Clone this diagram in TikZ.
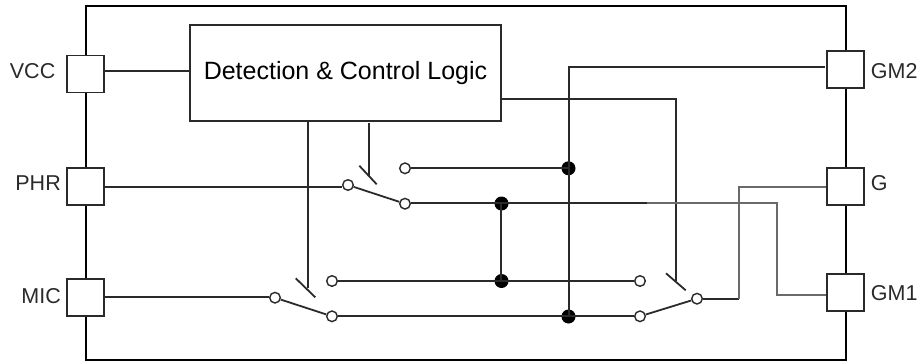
\documentclass[tikz,border=0pt]{standalone}
\usepackage{fontspec}
\setmainfont{Liberation Sans}
\definecolor{wirecol}{HTML}{2A2A2A}
\definecolor{greywire}{HTML}{6A6A6A}
\tikzset{
  x=1pt,y=-1pt,
  pad/.style={draw=wirecol,fill=white,line width=1.8pt,minimum size=37pt,inner sep=0pt},
  logicbox/.style={draw=wirecol,fill=white,line width=1.8pt,minimum width=311.6pt,minimum height=96.3pt,inner sep=0pt,font=\fontsize{25}{28}\selectfont,text=black},
  contact/.style={circle,draw=wirecol,fill=white,line width=1.4pt,minimum size=10.6pt,inner sep=0pt},
  junction/.style={circle,fill=black,minimum size=14pt,inner sep=0pt},
  wire/.style={draw=wirecol,line width=1.8pt},
  greyline/.style={draw=greywire,line width=1.8pt},
  chip/.style={draw=black,line width=2.5pt},
  lbl/.style={font=\fontsize{21.5}{24}\selectfont,inner sep=0pt,text=wirecol},
}
\begin{document}
\begin{tikzpicture}
\useasboundingbox (0,0) rectangle (921,362);
\draw[chip] (86,6) rectangle (846,360);
% pads
\node[pad] (vcc) at (85.8,74) {};
\node[pad] (phr) at (85.8,186.8) {};
\node[pad] (mic) at (85.8,297.5) {};
\node[pad] (gm2) at (845.5,69.3) {};
\node[pad] (g) at (845.5,186.7) {};
\node[pad] (gm1) at (845.5,292.4) {};
\node[lbl,anchor=east] (tvcc) at (55.5,71) {VCC};
\node[lbl,anchor=east] (tphr) at (61,183.5) {PHR};
\node[lbl,anchor=east] (tmic) at (61,296.5) {MIC};
\node[lbl,anchor=west] (tgm2) at (870.7,71) {GM2};
\node[lbl,anchor=west] (tg) at (870.7,183.5) {G};
\node[lbl,anchor=west] (tgm1) at (870.7,293) {GM1};
% logic
\node[logicbox] (logic) at (345.5,72.8) {Detection \& Control Logic};
% contacts
\node[contact] (pa) at (348,185) {};
\node[contact] (pu) at (405,168.3) {};
\node[contact] (pl) at (405,203.7) {};
\node[contact] (ma) at (275,297.7) {};
\node[contact] (mu) at (332,281) {};
\node[contact] (ml) at (332,316.3) {};
\node[contact] (ru) at (640,281) {};
\node[contact] (rl) at (640,316.3) {};
\node[contact] (ra) at (697,298.7) {};
% junctions
\node[junction] (j1) at (568.5,168.3) {};
\node[junction] (j2) at (501.5,203.5) {};
\node[junction] (j3) at (501.5,281) {};
\node[junction] (j4) at (568.5,316.5) {};
% helpers
\coordinate (t1a) at (359.3,165.7);
\coordinate (t1b) at (376.7,184.3);
\coordinate (t2a) at (295.7,278.3);
\coordinate (t2b) at (315.3,297.3);
\coordinate (t3a) at (666,273.3);
\coordinate (t3b) at (685.7,290.3);
\coordinate (l1) at (369,123.3);
\coordinate (l1e) at (369,176);
\coordinate (l2) at (308,121);
\coordinate (l2e) at (308,288.3);
\coordinate (l3) at (501.3,99);
\coordinate (l3c) at (675.8,99);
\coordinate (l3e) at (675.8,281);
\coordinate (vt) at (569.3,67);
\coordinate (vb) at (569.3,316);
\coordinate (gme) at (824.5,67);
\coordinate (we) at (647,203);
\coordinate (wl) at (647,203);
\coordinate (gc) at (777,203);
\coordinate (gd) at (777,295);
\coordinate (ga) at (739.3,299);
\coordinate (gb) at (739.3,186.7);
\coordinate (y1) at (0,71);
\coordinate (y2) at (0,186.7);
\coordinate (y3) at (0,297);
\coordinate (y4) at (0,168);
\coordinate (y5) at (0,203);
\coordinate (y6) at (0,280.7);
\coordinate (y7) at (0,315.7);
\coordinate (jx) at (501,0);
% wires
\draw[wire] (vcc.east |- y1) -- (logic.west |- y1);
\draw[wire] (phr.east |- y2) -- (pa.west |- y2);
\draw[wire] (mic.east |- y3) -- (ma.west |- y3);
\draw[wire] (pa) -- (pl);
\draw[wire] (ma) -- (ml);
\draw[wire] (ra) -- (rl);
\draw[wire] (pu.east |- y4) -- (j1 |- y4);
\draw[wire] (pl.east |- y5) -- (we);
\draw[wire] (jx |- j2) -- (jx |- j3);
\draw[wire] (mu.east |- y6) -- (ru.west |- y6);
\draw[wire] (ml.east |- y7) -- (rl.west |- y7);
\draw[wire] (vb) -- (vt) -- (gme);
\draw[wire] (l1) -- (l1e);
\draw[wire] (l2) -- (l2e);
\draw[wire] (l3) -- (l3c) -- (l3e);
\draw[wire] (t1a) -- (t1b);
\draw[wire] (t2a) -- (t2b);
\draw[wire] (t3a) -- (t3b);
\draw[wire] (ra.east |- ga) -- (ga);
\draw[greyline] (ga) -- (gb) -- (g.west |- gb);
\draw[greyline] (wl) -- (gc) -- (gd) -- (gm1.west |- gd);
\end{tikzpicture}
\end{document}
